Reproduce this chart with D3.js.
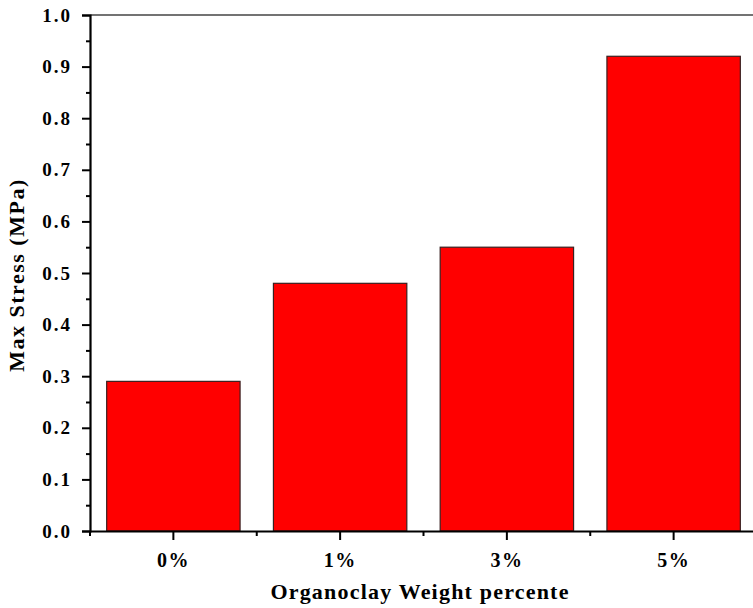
<!DOCTYPE html>
<html><head><meta charset="utf-8">
<script src="https://cdn.jsdelivr.net/npm/d3@7/dist/d3.min.js"></script>
<style>body{margin:0;background:#fff}svg{display:block}</style>
</head><body>
<svg id="c" width="753" height="608"></svg>
<script>
const categories = ["0%", "1%", "3%", "5%"];
const values = [0.29, 0.48, 0.55, 0.92];
const yTicks = [0.0, 0.1, 0.2, 0.3, 0.4, 0.5, 0.6, 0.7, 0.8, 0.9, 1.0];
const yMinorTicks = [0.05, 0.15, 0.25, 0.35, 0.45, 0.55, 0.65, 0.75, 0.85, 0.95];
const xTitle = "Organoclay Weight percente";
const yTitle = "Max Stress (MPa)";

const svg = d3.select("#c");
const L = 90, R = 757, T = 15, B = 531;
const font = "'Liberation Serif', 'Times New Roman', serif";

const x = d3.scaleBand().domain(categories).range([L, R]).paddingInner(0.2).paddingOuter(0.1);
const y = d3.scaleLinear().domain([0, 1]).range([B, T]);

// bars
svg.append("g").selectAll("rect").data(values).join("rect")
  .attr("x", (d, i) => x(categories[i]))
  .attr("y", d => y(d))
  .attr("width", x.bandwidth())
  .attr("height", d => y(0) - y(d))
  .attr("fill", "#ff0000")
  .attr("stroke", "#3a2020")
  .attr("stroke-width", 1.2);

// top frame line
svg.append("line").attr("x1", L).attr("x2", R).attr("y1", T).attr("y2", T)
  .attr("stroke", "#444").attr("stroke-width", 1.5);

// y axis
const yAxis = svg.append("g").attr("transform", `translate(${L},0)`)
  .call(d3.axisLeft(y).tickValues(yTicks).tickFormat(d3.format(".1f")).tickSize(8).tickPadding(10));
yAxis.select(".domain").attr("stroke", "#000").attr("stroke-width", 2.2);
yAxis.selectAll(".tick line").attr("stroke", "#000").attr("stroke-width", 2);
yAxis.selectAll(".tick text").attr("font-family", font).attr("font-weight", "bold")
  .attr("font-size", 19).attr("letter-spacing", 2).attr("fill", "#000");
svg.append("g").attr("transform", `translate(${L},0)`)
  .call(d3.axisLeft(y).tickValues(yMinorTicks).tickFormat("").tickSize(4))
  .call(g => g.select(".domain").remove())
  .selectAll(".tick line").attr("stroke", "#000").attr("stroke-width", 2);

// x axis
const xAxis = svg.append("g").attr("transform", `translate(0,${B})`)
  .call(d3.axisBottom(x).tickSize(9).tickPadding(13).tickSizeOuter(0));
xAxis.select(".domain").attr("stroke", "#000").attr("stroke-width", 2.2);
xAxis.selectAll(".tick line").attr("stroke", "#000").attr("stroke-width", 2);
xAxis.selectAll(".tick text").attr("font-family", font).attr("font-weight", "bold")
  .attr("font-size", 20).attr("letter-spacing", 1.5).attr("fill", "#000");
// minor x ticks at category boundaries
const step = x.step();
const bounds = categories.map(c => x(c) - (step - x.bandwidth()) / 2).concat([x(categories[3]) + x.bandwidth() + (step - x.bandwidth()) / 2]);
svg.append("g").selectAll("line").data(bounds).join("line")
  .attr("x1", d => d).attr("x2", d => d).attr("y1", B).attr("y2", B + 5)
  .attr("stroke", "#000").attr("stroke-width", 2);

// titles
svg.append("text").attr("x", 420).attr("y", 599).attr("text-anchor", "middle")
  .attr("font-family", font).attr("font-weight", "bold").attr("font-size", 22)
  .attr("letter-spacing", 1.2).text(xTitle);
svg.append("text").attr("transform", "translate(24,275) rotate(-90)").attr("text-anchor", "middle")
  .attr("font-family", font).attr("font-weight", "bold").attr("font-size", 22)
  .attr("letter-spacing", 1.5).text(yTitle);
</script>
</body></html>
